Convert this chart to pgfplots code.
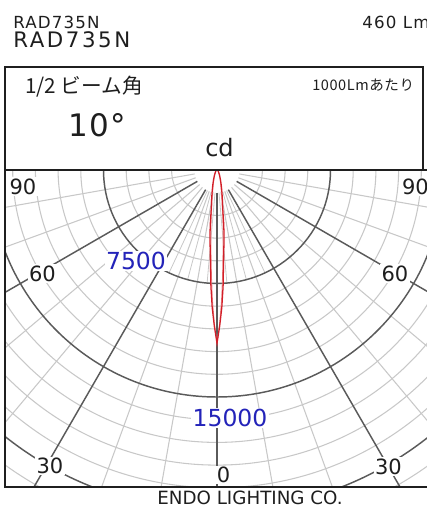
\documentclass[border=0pt]{standalone}
\usepackage{pgfplots}
\pgfplotsset{compat=1.18}
\usepackage{fontspec}
\setmainfont{DejaVu Sans}
\newfontfamily\cjk{Noto Sans CJK JP}
\definecolor{lightgrid}{RGB}{200,200,200}
\definecolor{darkgrid}{RGB}{90,90,90}
\definecolor{curvered}{RGB}{210,30,40}
\definecolor{curvepink}{RGB}{238,140,140}
\definecolor{labelblue}{RGB}{35,35,185}
\definecolor{ink}{RGB}{30,30,30}

\begin{document}
\begin{tikzpicture}
% ---------- polar grid (pixel units, y downwards) ----------
\begin{scope}[x=0.75pt,y=-0.75pt]
  \begin{scope}
    \clip (5,170) rectangle (432,487);
    \foreach \k in {2,3,4,6,7,8,9,11,12,13,14,16,17}
      \draw[lightgrid, line width=0.8pt] (217,170) circle [radius=\k*22.7];
    \foreach \a in {-80,-70,-50,-40,-20,-10,10,20,40,50,70,80}
      \draw[lightgrid, line width=0.8pt] ({217+22.7*sin(\a)},{170+22.7*cos(\a)}) -- ({217+420*sin(\a)},{170+420*cos(\a)});
    \foreach \a in {-25,-15,-5,5,15,25}
      \draw[lightgrid, line width=0.6pt] ({217+22.7*sin(\a)},{170+22.7*cos(\a)}) -- ({217+113.5*sin(\a)},{170+113.5*cos(\a)});
    \foreach \k in {5,10,15}
      \draw[darkgrid, line width=1.1pt] (217,170) circle [radius=\k*22.7];
    \foreach \a in {-60,-30,0,30,60}
      \draw[darkgrid, line width=1.1pt] ({217+22.7*sin(\a)},{170+22.7*cos(\a)}) -- ({217+420*sin(\a)},{170+420*cos(\a)});
  \end{scope}
  % angle labels
  \begin{scope}[every node/.style={fill=white, inner sep=1pt, text=ink, font=\fontsize{15.75pt}{18pt}\selectfont}]
    \node at (23,186.5) {90};
    \node at (415.5,187) {90};
    \node at (42.5,273.5) {60};
    \node at (395,273.5) {60};
    \node at (50,466) {30};
    \node at (388.5,466.5) {30};
    \node at (223.5,475) {0};
  \end{scope}
  \begin{scope}[every node/.style={fill=white, inner sep=1pt, text=labelblue, font=\fontsize{17.6pt}{20pt}\selectfont}]
    \node at (136,261) {7500};
    \node at (230,418) {15000};
  \end{scope}
\end{scope}

% ---------- luminous intensity curves ----------
\begin{axis}[
  at={(3.75pt,-365.25pt)}, anchor=south west,
  x=0.01135pt, y=0.01135pt,
  xmin=-14009, xmax=14207, ymin=-20948, ymax=0,
  axis line style={line width=1.5pt, color=black!88},
  xtick=\empty, ytick=\empty,
  clip=true,
]
% second plane (slightly narrower), angle = -90 + theta, radius = cd
\addplot[curvepink, line width=0.6pt, data cs=polar] coordinates {
(-180,0) (-170,8) (-160,20) (-150,40) (-140,70) (-130,120) (-120,220) (-115,330)
(-110,520) (-108,650) (-106,800) (-104,1000) (-102,1300) (-100,1750) (-99,2100)
(-98,2500) (-97,3100) (-96,3800) (-95,4600) (-94,5600) (-93,7000) (-92,8600)
(-91,10100) (-90,11450)
(-89,10100) (-88,8600) (-87,7000) (-86,5600) (-85,4600) (-84,3800) (-83,3100)
(-82,2500) (-81,2100) (-80,1750) (-78,1300) (-76,1000) (-74,800) (-72,650)
(-70,520) (-65,330) (-60,220) (-50,120) (-40,70) (-30,40) (-20,20) (-10,8) (0,0)
};
% main plane
\addplot[curvered, line width=0.95pt, data cs=polar] coordinates {
(-180,0) (-170,10) (-160,25) (-150,50) (-140,90) (-130,150) (-120,280) (-115,420)
(-110,650) (-108,800) (-106,1000) (-104,1250) (-102,1600) (-100,2100) (-99,2350)
(-98,2850) (-97,3700) (-96,4400) (-95,5200) (-94,6200) (-93,7700) (-92,9100)
(-91,10300) (-90,11450)
(-89,10300) (-88,9100) (-87,7700) (-86,6200) (-85,5200) (-84,4400) (-83,3700)
(-82,2850) (-81,2350) (-80,2100) (-78,1600) (-76,1250) (-74,1000) (-72,800)
(-70,650) (-65,420) (-60,280) (-50,150) (-40,90) (-30,50) (-20,25) (-10,10) (0,0)
};
\end{axis}

% ---------- header and footer (pixel units, y downwards) ----------
\begin{scope}[x=0.75pt,y=-0.75pt]
  \draw[line width=1.5pt, black!88] (5,67) rectangle (423,170);
  \node[anchor=base west, inner sep=0, text=ink, font=\fontsize{12.5pt}{14pt}\selectfont\addfontfeature{LetterSpace=7}] at (13,28.6) {RAD735N};
  \node[anchor=base west, inner sep=0, text=ink, font=\fontsize{12.5pt}{14pt}\selectfont\addfontfeature{LetterSpace=7}] at (362,28.6) {460 Lm};
  \node[anchor=base west, inner sep=0, text=ink, font=\fontsize{16pt}{18pt}\selectfont\addfontfeature{LetterSpace=12}] at (13,47) {RAD735N};
  \node[anchor=base west, inner sep=0, text=ink, font=\cjk\fontsize{15.5pt}{17pt}\selectfont] at (25,93.5) {1/2 ビーム角};
  \node[anchor=base west, inner sep=0, text=ink, font=\cjk\fontsize{10.9pt}{13pt}\selectfont\addfontfeature{LetterSpace=4}] at (312,90) {1000Lmあたり};
  \node[anchor=base west, inner sep=0, text=ink, font=\fontsize{23.25pt}{26pt}\selectfont\addfontfeature{LetterSpace=5}] at (68,136.7) {10°};
  \node[anchor=base west, inner sep=0, text=ink, font=\fontsize{18pt}{21pt}\selectfont] at (205,156.7) {cd};
  \node[anchor=base, inner sep=0, text=ink, font=\fontsize{13.7pt}{16pt}\selectfont] at (250,504.5) {ENDO LIGHTING CO.};
\end{scope}

\pgfresetboundingbox
\path[use as bounding box] (0,0) rectangle (320.25pt,-380.25pt);
\end{tikzpicture}
\end{document}
